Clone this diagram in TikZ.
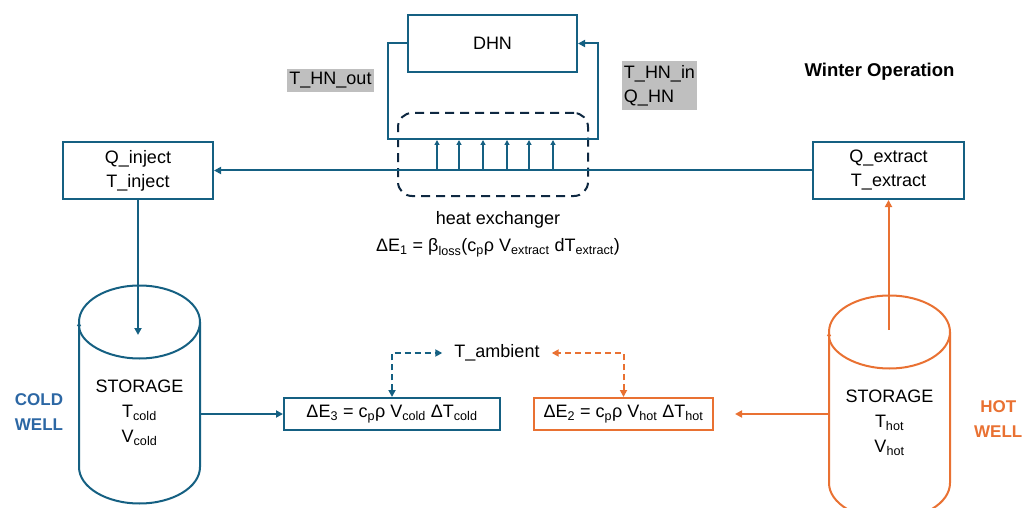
\documentclass[tikz,border=0pt]{standalone}
\usepackage{fontspec}
\setmainfont{Liberation Sans}
\usetikzlibrary{arrows.meta}
\definecolor{cblue}{HTML}{156082}
\definecolor{cwell}{HTML}{2C67A4}
\definecolor{corange}{HTML}{E97132}
\definecolor{cdash}{HTML}{0E2841}
\definecolor{hl}{HTML}{BFBFBF}
\newcommand\sub[1]{\textsubscript{#1}}
\begin{document}
\begin{tikzpicture}[x=1pt,y=-1pt,
  every node/.style={font=\fontsize{18}{24}\selectfont, inner sep=0pt, text=black},
  box/.style={draw=cblue, line width=2pt, align=center},
  obox/.style={draw=corange, line width=2pt, align=center},
  hxbox/.style={draw=cdash, line width=2pt, dash pattern=on 9pt off 6pt, rounded corners=14pt, minimum width=190pt, minimum height=83pt},
  flow/.style={draw=cblue, line width=2pt, -{Triangle[length=7pt,width=7pt]}},
  oflow/.style={draw=corange, line width=2pt, -{Triangle[length=7pt,width=7pt]}},
  thinflow/.style={draw=cblue, line width=1.4pt, -{Triangle[length=5pt,width=5pt]}},
  dflow/.style={line width=2pt, dash pattern=on 6pt off 4pt, {Triangle[length=7pt,width=7pt]}-{Triangle[length=7pt,width=7pt]}},
  cyl/.style={line width=2pt},
  hlabel/.style={fill=hl, inner xsep=2pt, inner ysep=2pt, align=left},
  well/.style={font=\fontsize{17}{25}\selectfont\bfseries, align=center}
]
\useasboundingbox (0,0) rectangle (1023,508);

% boxes
\node[box, minimum width=169pt, minimum height=57pt] (dhn) at (492.5,43.5) {DHN};
\node[box, minimum width=150pt, minimum height=57pt] (qin) at (138,170.5) {Q\_inject\\T\_inject};
\node[box, minimum width=151pt, minimum height=57pt] (qext) at (888.5,170.5) {Q\_extract\\T\_extract};
\node[hxbox] (hx) at (493,154.5) {};
\node[box, minimum width=216pt, minimum height=32pt] (e3) at (392,414) {ΔE\sub{3} = c\sub{p}ρ V\sub{cold} ΔT\sub{cold}};
\node[obox, minimum width=179pt, minimum height=32pt] (e2) at (623.5,414) {ΔE\sub{2} = c\sub{p}ρ V\sub{hot} ΔT\sub{hot}};

% labels
\node[hlabel, minimum height=23pt] (thnout) at (330.5,80.5) {T\_HN\_out};
\node[hlabel, minimum height=49pt] (thnin) at (659.5,85.5) {T\_HN\_in\\Q\_HN};
\node[font=\fontsize{18.5}{24}\selectfont\bfseries] (winter) at (879.5,72) {Winter Operation};
\node (hxlabel) at (498,220) {heat exchanger};
\node (e1) at (498,248) {ΔE\sub{1} = β\sub{loss}(c\sub{p}ρ V\sub{extract} dT\sub{extract})};
\node[inner xsep=12pt] (tamb) at (497,353) {T\_ambient};
\node[well, text=cwell] (coldwell) at (39,412) {COLD\\WELL};
\node[well, text=corange, anchor=east] (hotwell) at (1022.5,419) {HOT\\WELL};

% DHN loop
\coordinate (lb) at (388,139);
\coordinate (rb) at (598,139);
\draw[flow] (dhn.west) -| (lb) -- (rb) |- (dhn.east);

% main line through heat exchanger
\draw[flow] (qext.west) -- (qin.east);
\foreach \i/\x in {1/437,2/459,3/483,4/507,5/529,6/553}{
  \coordinate (ha\i) at (\x,171);
  \coordinate (hb\i) at (\x,140);
  \draw[thinflow] (ha\i) -- (hb\i);
}

% cold cylinder
\draw[cyl, draw=cblue] (79,322) -- (79,467) arc(180:0:60.5 and 36.5) -- (200,322);
\draw[cyl, draw=cblue, -{Triangle[length=4pt,width=4pt]}] (79,322) arc(-180:180:60.5 and 36.5);
\node[align=center, font=\fontsize{18}{25}\selectfont] (coldst) at (139.5,413) {STORAGE\\T\sub{cold}\\V\sub{cold}};

% hot cylinder
\draw[cyl, draw=corange] (829,332) -- (829,483) arc(180:0:60.5 and 36.5) -- (950,332);
\draw[cyl, draw=corange, -{Triangle[length=4pt,width=4pt]}] (829,332) arc(-180:180:60.5 and 36.5);
\node[align=center, font=\fontsize{18}{25}\selectfont] (hotst) at (889.5,423) {STORAGE\\T\sub{hot}\\V\sub{hot}};

% connectors
\coordinate (coldin) at (138,335);
\draw[flow] (qin.south) -- (coldin);
\coordinate (coldR) at (200,414);
\draw[flow] (coldR) -- (e3.west);
\coordinate (hotin) at (888.5,330);
\draw[oflow] (hotin) -- (qext.south);
\coordinate (hotL) at (829,414);
\coordinate (hotend) at (735,414);
\draw[oflow] (hotL) -- (hotend);

% ambient exchange
\draw[dflow, draw=cblue] (e3.north) |- (tamb.west);
\draw[dflow, draw=corange] (e2.north) |- (tamb.east);
\end{tikzpicture}
\end{document}
